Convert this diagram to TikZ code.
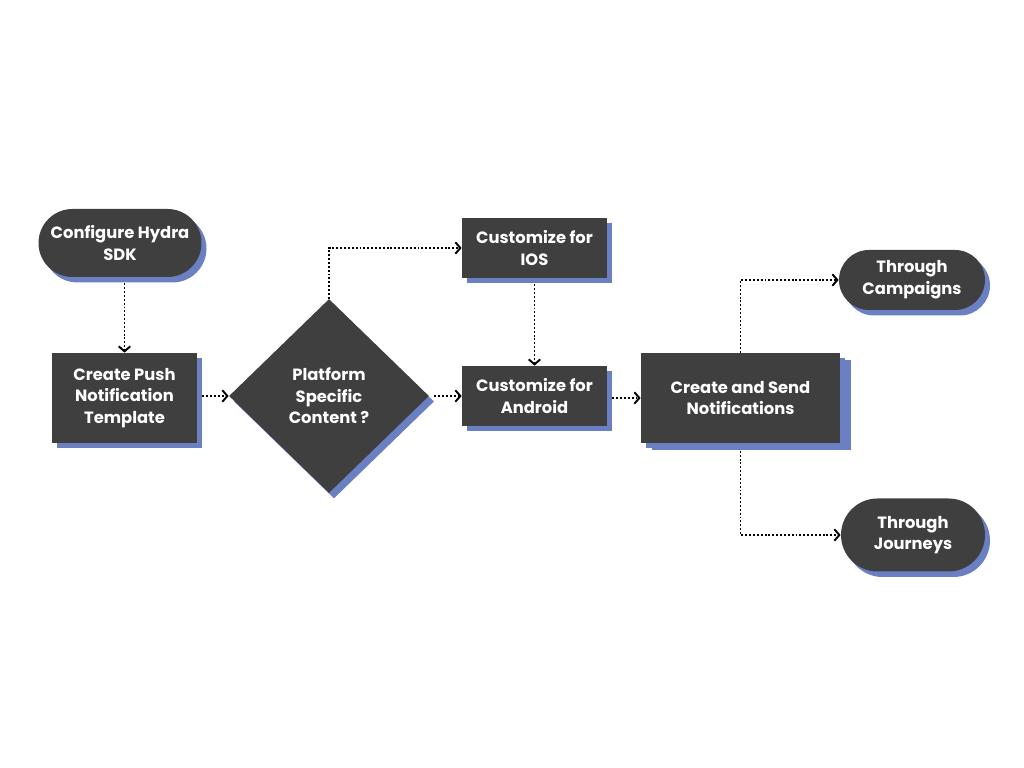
\documentclass[tikz,border=0pt]{standalone}
\usepackage{fontspec}
\setmainfont{Poppins}
\usetikzlibrary{shapes.geometric,shapes.misc,shadows,arrows.meta}
\definecolor{boxgray}{HTML}{3F3F3F}
\definecolor{shadeblue}{HTML}{6B80C3}
\begin{document}
\begin{tikzpicture}[
    font=\fontsize{9.3}{12.3}\selectfont\bfseries,
    base/.style={fill=boxgray, text=white, align=center, inner sep=0pt,
      drop shadow={shadow xshift=0.1cm, shadow yshift=-0.11cm, fill=shadeblue, opacity=1}},
    pill/.style={base, rounded rectangle, minimum width=#1, minimum height=1.22cm},
    card/.style={base, rectangle, minimum width=2.9cm, minimum height=1.2cm},
    decision/.style={base, diamond, minimum width=4.0cm, minimum height=3.88cm},
    flow/.style={line width=1.1pt, dash pattern=on 1.1pt off 1.1pt,
      -{Straight Barb[length=1mm,width=2.3mm]}}
  ]
    \useasboundingbox (0,0) rectangle (20.48,15.36);

    % Start and template
    \node[pill=3.26cm, minimum height=1.36cm] (sdk) at (2.40,10.50) {Configure Hydra\\SDK};
    \node[card, minimum height=1.8cm] (tmpl) at (2.49,7.40) {Create Push\\Notification\\Template};

    % Decision
    \node[decision] (plat) at (6.58,7.44) {Platform\\Specific\\Content ?};

    % Platform boxes
    \node[card] (ios) at (10.69,10.40) {Customize for\\IOS};
    \node[card] (andr) at (10.69,7.44) {Customize for\\Android};

    % Send and channels
    \node[card, minimum width=3.98cm, minimum height=1.8cm,
      drop shadow={shadow xshift=0.22cm, shadow yshift=-0.15cm, fill=shadeblue, opacity=1}] (send) at (14.81,7.40) {Create and Send\\Notifications};
    \node[pill=2.92cm, minimum height=1.2cm] (camp) at (18.24,9.76) {Through\\Campaigns};
    \node[pill=2.88cm, minimum height=1.46cm] (jour) at (18.26,4.66) {Through\\Journeys};

    % Connectors
    \draw[flow, shorten <=0.12cm] (sdk.south -| tmpl.north) -- (tmpl.north);
    \draw[flow, shorten <=0.1cm] (tmpl.east |- plat.west) -- (plat.west);
    \draw[flow] (plat.north) |- (ios.west);
    \draw[flow, shorten <=0.1cm] (plat.east) -- (andr.west);
    \draw[flow, shorten <=0.12cm] (ios.south) -- (andr.north);
    \draw[flow, shorten <=0.1cm] (andr.east |- send.west) -- (send.west);
    \draw[flow] (send.north) |- (camp.west);
    \draw[flow, shorten <=0.15cm] (send.south) |- (jour.west);
\end{tikzpicture}
\end{document}
